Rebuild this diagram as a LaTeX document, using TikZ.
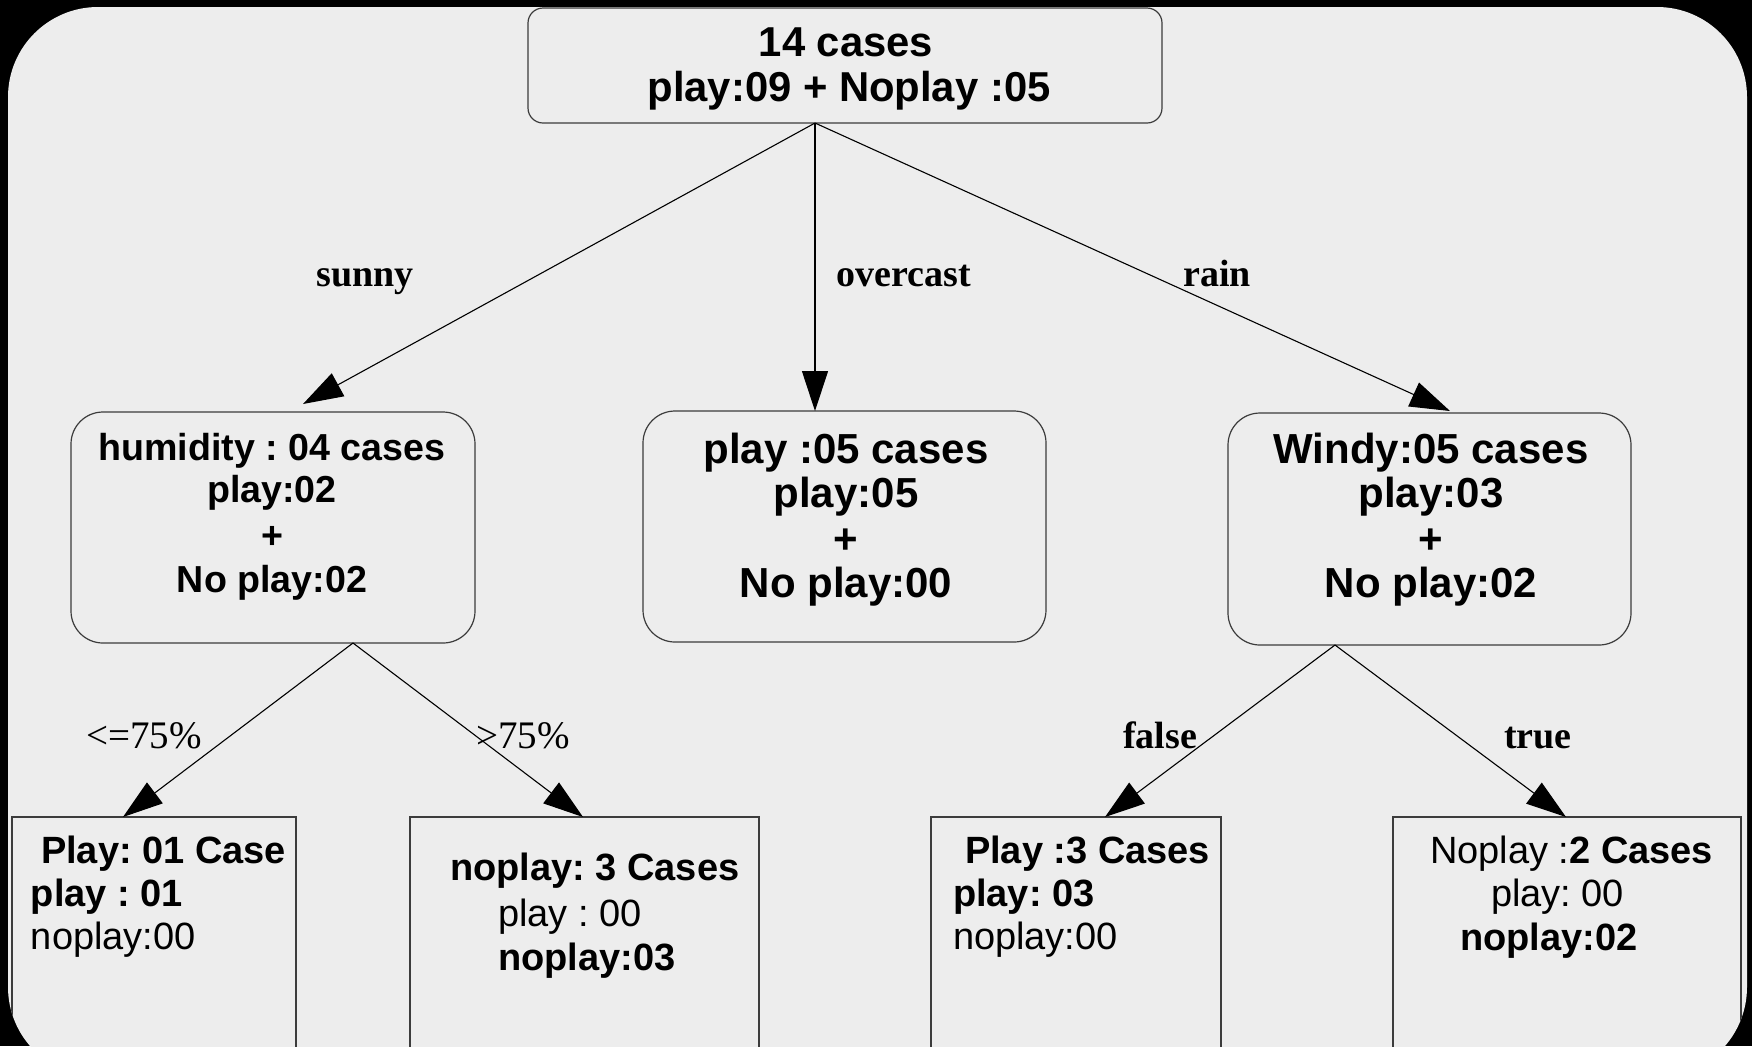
\documentclass[tikz,border=0pt]{standalone}
\usepackage{fontspec}
\setmainfont{Liberation Serif}
\setsansfont{Liberation Sans}
\usetikzlibrary{arrows.meta}
\definecolor{bggray}{HTML}{EDEDED}
\definecolor{boxline}{HTML}{3C3C3C}
\tikzset{
  rbox/.style={draw=boxline, line width=0.6pt, inner sep=0pt, outer sep=0pt},
  sqbox/.style={draw=boxline, line width=0.6pt, inner sep=0pt, outer sep=0pt},
  edge/.style={draw=black, line width=0.55pt, -{Triangle[length=20pt,width=13pt]}},
  tb/.style={inner sep=0pt, outer sep=0pt, anchor=base, font=\sffamily\bfseries\fontsize{20.9}{24}\selectfont},
  tm/.style={inner sep=0pt, outer sep=0pt, anchor=base, font=\sffamily\bfseries\fontsize{21}{25}\selectfont},
  th/.style={inner sep=0pt, outer sep=0pt, anchor=base, font=\sffamily\bfseries\fontsize{18.8}{22}\selectfont},
  lb/.style={inner sep=0pt, outer sep=0pt, anchor=base west, font=\sffamily\bfseries\fontsize{19}{22}\selectfont},
  lr/.style={inner sep=0pt, outer sep=0pt, anchor=base west, font=\sffamily\fontsize{19}{22}\selectfont},
  elab/.style={inner sep=0pt, outer sep=0pt, anchor=base, font=\rmfamily\bfseries\fontsize{19}{22}\selectfont},
  elabr/.style={inner sep=0pt, outer sep=0pt, anchor=base, font=\rmfamily\fontsize{19.5}{22}\selectfont}
}
\begin{document}
\frenchspacing
\begin{tikzpicture}[x=0.5pt,y=-0.5pt]
\useasboundingbox (0,0) rectangle (1752,1046);
\fill[black] (0,0) rectangle (1752,1046);
\begin{scope}
\clip[rounded corners=45pt] (8,7) rectangle (1747,1077);
\fill[bggray] (0,0) rectangle (1752,1090);

% boxes
\node[rbox, rounded corners=7.5pt, minimum width=317pt, minimum height=57.5pt] (root) at (845,65.5) {};
\node[rbox, rounded corners=16pt, minimum width=202pt, minimum height=115.5pt] (hum) at (273,527.5) {};
\node[rbox, rounded corners=16pt, minimum width=201.5pt, minimum height=115.5pt] (ovc) at (844.5,526.5) {};
\node[rbox, rounded corners=16pt, minimum width=201.5pt, minimum height=116pt] (wind) at (1429.5,529) {};
\node[sqbox, minimum width=142pt, minimum height=129pt] (n1) at (154,946) {};
\node[sqbox, minimum width=174.5pt, minimum height=129pt] (n2) at (584.5,946) {};
\node[sqbox, minimum width=145pt, minimum height=129pt] (n3) at (1076,946) {};
\node[sqbox, minimum width=174pt, minimum height=129pt] (n4) at (1567,946) {};

% connector end points
\coordinate (rs) at (815,123);
\coordinate (tsun) at (303,404);
\coordinate (tovc) at (815,411);
\coordinate (train) at (1450,411);
\coordinate (hs) at (353,643);
\coordinate (tle) at (123,817);
\coordinate (tgt) at (583,817);
\coordinate (ws) at (1335,645);
\coordinate (tfa) at (1105,817);
\coordinate (ttr) at (1566,817);

\draw[edge] (rs) -- (tsun);
\draw[edge] (rs) -- (tovc);
\draw[edge] (rs) -- (train);
\draw[edge] (hs) -- (tle);
\draw[edge] (hs) -- (tgt);
\draw[edge] (ws) -- (tfa);
\draw[edge] (ws) -- (ttr);

% root text
\node[tb] (r1) at (846,56) {14 cases};
\node[tb] (r2) at (849,101) {play:09 + Noplay :05};

% humidity box
\node[th] (h1) at (272,460) {humidity : 04 cases};
\node[th] (h2) at (272,502) {play:02};
\node[th] (h3) at (272,548) {+};
\node[th] (h4) at (272,592) {No play:02};

% overcast box
\node[tm] (o1) at (846,463) {play :05 cases};
\node[tm] (o2) at (846,507) {play:05};
\node[tm] (o3) at (846,553) {+};
\node[tm] (o4) at (846,597) {No play:00};

% windy box
\node[tm] (w1) at (1431,463) {Windy:05 cases};
\node[tm] (w2) at (1431,507) {play:03};
\node[tm] (w3) at (1431,553) {+};
\node[tm] (w4) at (1431,597) {No play:02};

% leaf 1
\node[lb] (a1) at (41,863) {Play: 01 Case};
\node[lb] (a2) at (31,906) {play : 01};
\node[lr] (a3) at (31,949) {noplay:00};
% leaf 2
\node[lb] (b1) at (450,880) {noplay: 3 Cases};
\node[lr] (b2) at (498,926) {play : 00};
\node[lb] (b3) at (498,970) {noplay:03};
% leaf 3
\node[lb] (c1) at (965,863) {Play :3 Cases};
\node[lb] (c2) at (953,906) {play: 03};
\node[lr] (c3) at (953,949) {noplay:00};
% leaf 4
\node[lr] (d1) at (1430,863) {Noplay :{\bfseries 2 Cases}};
\node[lr] (d2) at (1491,906) {play: 00};
\node[lb] (d3) at (1460,950) {noplay:02};

% edge labels
\node[elab] (lsun) at (365,286) {sunny};
\node[elab] (lovc) at (904,286) {overcast};
\node[elab] (lrain) at (1217,286) {rain};
\node[elabr] (lle) at (144,748) {<=75\%};
\node[elabr] (lgt) at (523,748) {>75\%};
\node[elab] (lfa) at (1160,748) {false};
\node[elab] (ltr) at (1538,748) {true};
\end{scope}
\end{tikzpicture}
\end{document}
